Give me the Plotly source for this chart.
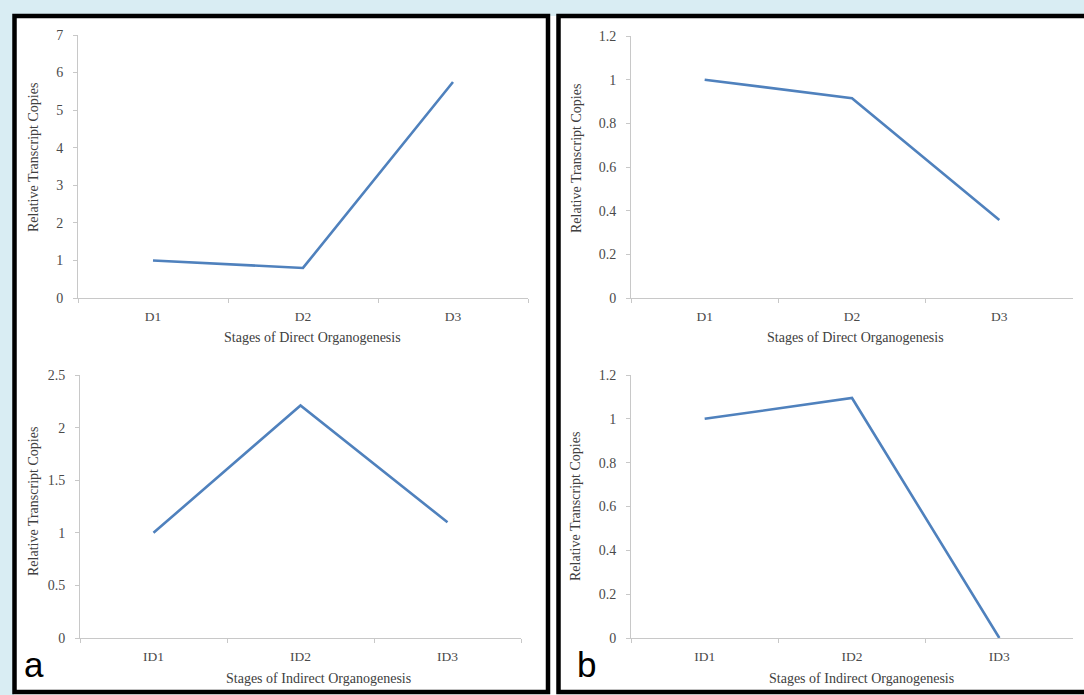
import plotly.graph_objects as go

# ---- data ----
direct_stages = ["D1", "D2", "D3"]
indirect_stages = ["ID1", "ID2", "ID3"]
a_direct = [1.0, 0.8, 5.75]
a_indirect = [1.0, 2.21, 1.10]
b_direct = [1.0, 0.915, 0.357]
b_indirect = [1.0, 1.095, 0.0]

y_title = "Relative Transcript Copies"
x_title_direct = "Stages of Direct Organogenesis"
x_title_indirect = "Stages of Indirect Organogenesis"

W, H = 1084, 695
LINE = "#4f81bd"
AXIS = "#c8c8c8"
TXT = "#4a4a4a"
FONT = "Liberation Serif"


def px(x):
    return x / W


def py(y):
    return (H - y) / H


fig = go.Figure()

panels = [
    # (xaxis id, yaxis id, cats, vals, xdom px, ydom px, yrange, dtick)
    ("x", "y", direct_stages, a_direct, (78, 528), (35, 298), [0, 7], 1),
    ("x2", "y2", indirect_stages, a_indirect, (80, 521), (375, 638), [0, 2.5], 0.5),
    ("x3", "y3", direct_stages, b_direct, (631, 1073), (36, 298), [0, 1.2], 0.2),
    ("x4", "y4", indirect_stages, b_indirect, (631, 1073), (375, 638), [0, 1.2], 0.2),
]

layout_axes = {}
for xa, ya, cats, vals, xd, yd, yr, dt in panels:
    fig.add_trace(go.Scatter(x=cats, y=vals, mode="lines", xaxis=xa, yaxis=ya,
                             line=dict(color=LINE, width=2.6), showlegend=False,
                             hoverinfo="x+y"))
    xkey = "xaxis" + xa[1:]
    ykey = "yaxis" + ya[1:]
    layout_axes[xkey] = dict(
        domain=[px(xd[0]), px(xd[1])], anchor=ya, type="category",
        range=[-0.5, 2.5], showline=True, linecolor=AXIS, linewidth=1,
        ticks="outside", tickson="boundaries", ticklen=4, tickcolor=AXIS,
        showgrid=False, zeroline=False, ticklabelstandoff=6, automargin=False,
        tickfont=dict(family=FONT, size=13.5, color=TXT), fixedrange=True,
    )
    layout_axes[ykey] = dict(
        domain=[py(yd[1]), py(yd[0])], anchor=xa, range=yr, dtick=dt,
        tick0=0, showline=True, linecolor=AXIS, linewidth=1,
        ticks="outside", ticklen=4, tickcolor=AXIS, showgrid=False,
        zeroline=False, ticklabelstandoff=7, automargin=False,
        tickfont=dict(family=FONT, size=14, color=TXT), fixedrange=True,
    )

fig.update_layout(**layout_axes)

ann = []
# y-axis titles
for (x, y) in [(33, 158), (33, 502), (576, 159), (576, 507)]:
    ann.append(dict(text=y_title, x=px(x), y=py(y), xref="paper", yref="paper",
                    xanchor="center", yanchor="middle",
                    showarrow=False, textangle=-90,
                    font=dict(family=FONT, size=14, color="#404040")))
# x-axis titles
for (t, x, y) in [(x_title_direct, 312, 337), (x_title_indirect, 318, 678),
                  (x_title_direct, 855, 337), (x_title_indirect, 861, 678)]:
    ann.append(dict(text=t, x=px(x), y=py(y), xref="paper", yref="paper",
                    xanchor="center", yanchor="middle",
                    showarrow=False, font=dict(family=FONT, size=14, color="#404040")))
# panel letters
for (t, x, y) in [("a", 34, 664), ("b", 586, 664)]:
    ann.append(dict(text=t, x=px(x), y=py(y), xref="paper", yref="paper",
                    xanchor="center", yanchor="middle",
                    showarrow=False,
                    font=dict(family="Liberation Sans", size=35, color="#000000")))

shapes = [
    dict(type="rect", xref="paper", yref="paper", x0=px(14), x1=px(1090),
         y0=py(700), y1=py(16), fillcolor="white", line=dict(width=0), layer="below"),
    dict(type="rect", xref="paper", yref="paper", x0=px(14.5), x1=px(548),
         y0=py(692), y1=py(16), line=dict(color="black", width=4.5)),
    dict(type="rect", xref="paper", yref="paper", x0=px(558.5), x1=px(1095),
         y0=py(692), y1=py(16), line=dict(color="black", width=4.5)),
]

fig.update_layout(
    width=W, height=H, margin=dict(l=0, r=0, t=0, b=0, pad=0, autoexpand=False),
    paper_bgcolor="#d9edf3", plot_bgcolor="rgba(0,0,0,0)",
    annotations=ann, shapes=shapes, showlegend=False,
)

fig.write_html("out.html", config={"displayModeBar": False},
               post_script="document.body.style.margin='0';document.body.style.overflow='hidden';")
